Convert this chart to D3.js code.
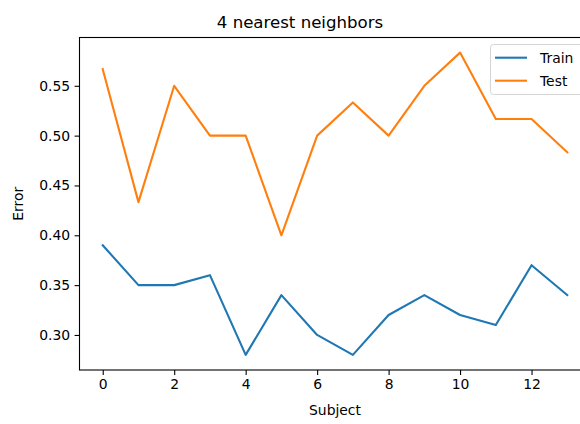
<!DOCTYPE html>
<html>
<head>
<meta charset="utf-8">
<script src="https://cdn.jsdelivr.net/npm/d3@7"></script>
<style>
  html, body { margin: 0; padding: 0; background: #fff; }
  svg { display: block; font-family: "DejaVu Sans", sans-serif; }
</style>
</head>
<body>
<svg id="chart" width="580" height="424"></svg>
<script>
const subjects = [0, 1, 2, 3, 4, 5, 6, 7, 8, 9, 10, 11, 12, 13];
const trainError = [0.39, 0.35, 0.35, 0.36, 0.28, 0.34, 0.30, 0.28, 0.32, 0.34, 0.32, 0.31, 0.37, 0.34];
const testError = [0.5667, 0.4333, 0.55, 0.50, 0.50, 0.40, 0.50, 0.5333, 0.50, 0.55, 0.5833, 0.5167, 0.5167, 0.4833];
const xTicks = [0, 2, 4, 6, 8, 10, 12];
const yTicks = [0.30, 0.35, 0.40, 0.45, 0.50, 0.55];
const seriesNames = ["Train", "Test"];
const seriesColors = ["#1f77b4", "#ff7f0e"];

const svg = d3.select("#chart");
const mLeft = 79.5, mRight = 590.5, mTop = 37.5, mBottom = 370;

const allVals = trainError.concat(testError);
const yMin = d3.min(allVals), yMax = d3.max(allVals);
const yPad = (yMax - yMin) * 0.05;
const xPad = (d3.max(subjects) - d3.min(subjects)) * 0.05;

const x = d3.scaleLinear().domain([d3.min(subjects) - xPad, d3.max(subjects) + xPad]).range([mLeft, mRight]);
const y = d3.scaleLinear().domain([yMin - yPad, yMax + yPad]).range([mBottom, mTop]);

// lines
const line = d3.line().x((d, i) => x(subjects[i])).y(d => y(d));
[trainError, testError].forEach((s, k) => {
  svg.append("path").datum(s)
    .attr("d", line)
    .attr("fill", "none")
    .attr("stroke", seriesColors[k])
    .attr("stroke-width", 2.1)
    .attr("stroke-linejoin", "round")
    .attr("stroke-linecap", "square");
});

// axes
const xAxis = d3.axisBottom(x).tickValues(xTicks).tickFormat(d3.format("d")).tickSize(4.9).tickPadding(4);
const yAxis = d3.axisLeft(y).tickValues(yTicks).tickFormat(d3.format(".2f")).tickSize(4.9).tickPadding(4.5);

const gx = svg.append("g").attr("transform", `translate(0,${mBottom})`).call(xAxis);
const gy = svg.append("g").attr("transform", `translate(${mLeft},0)`).call(yAxis);
[gx, gy].forEach(g => {
  g.select(".domain").remove();
  g.selectAll(".tick line").attr("stroke", "#000").attr("stroke-width", 1.1);
  g.selectAll(".tick text").attr("fill", "#000").style("font-size", "13.9px").style("font-family", "'DejaVu Sans', sans-serif");
});

// spines
svg.append("rect")
  .attr("x", mLeft).attr("y", mTop)
  .attr("width", mRight - mLeft).attr("height", mBottom - mTop)
  .attr("fill", "none").attr("stroke", "#000").attr("stroke-width", 1.1);

// title and labels
svg.append("text").attr("x", 300).attr("y", 28).attr("text-anchor", "middle")
  .style("font-size", "16.6px").attr("fill", "#000").text("4 nearest neighbors");
svg.append("text").attr("x", (mLeft + mRight) / 2).attr("y", 415).attr("text-anchor", "middle")
  .style("font-size", "13.9px").attr("fill", "#000").text("Subject");
svg.append("text").attr("transform", `translate(23,${(mTop + mBottom) / 2}) rotate(-90)`)
  .attr("text-anchor", "middle")
  .style("font-size", "13.9px").attr("fill", "#000").text("Error");

// legend
const lg = svg.append("g");
lg.append("rect").attr("x", 490.5).attr("y", 44.5).attr("width", 95).attr("height", 50)
  .attr("rx", 3).attr("fill", "#fff").attr("fill-opacity", 0.8)
  .attr("stroke", "#d5d5d5").attr("stroke-width", 1);
seriesNames.forEach((name, i) => {
  const yy = 57.7 + i * 23;
  lg.append("line").attr("x1", 495).attr("x2", 527).attr("y1", yy).attr("y2", yy)
    .attr("stroke", seriesColors[i]).attr("stroke-width", 2.1);
  lg.append("text").attr("x", 540).attr("y", yy + 5).style("font-size", "13.9px")
    .attr("fill", "#000").text(name);
});
</script>
</body>
</html>
